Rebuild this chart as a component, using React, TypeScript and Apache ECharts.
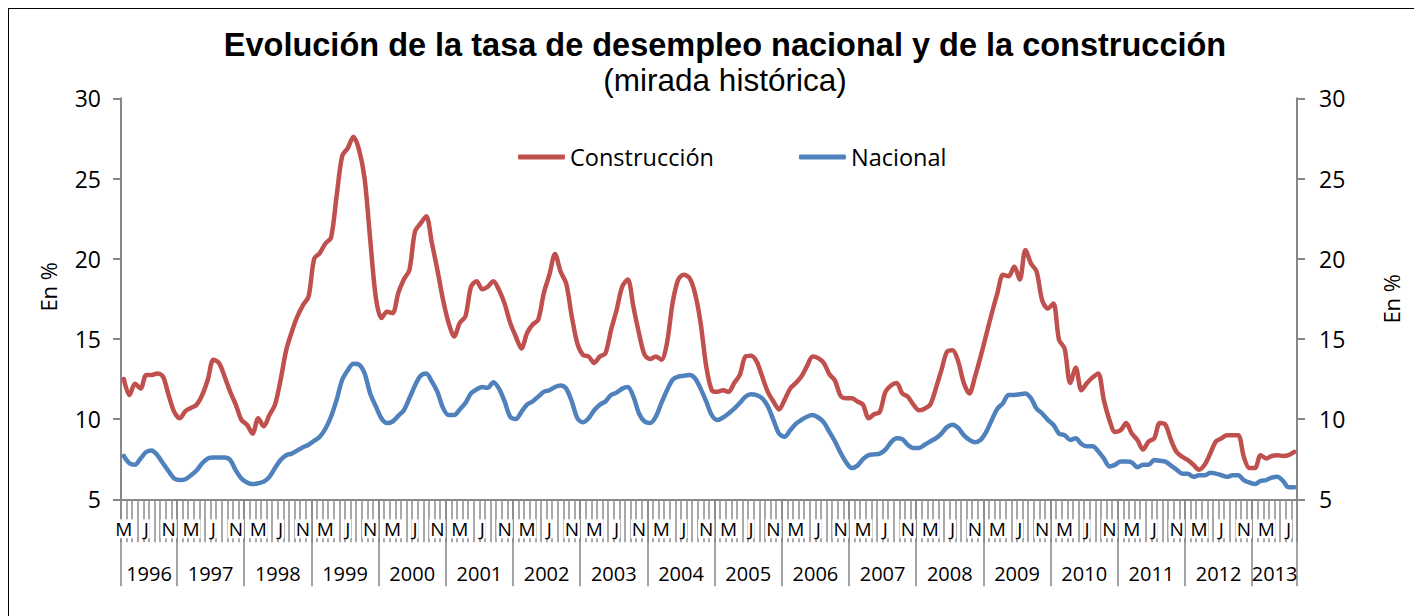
import React, { useEffect, useRef } from "react";
import * as echarts from "echarts";

// Spanish month initials (Enero ... Diciembre)
const monthInitials = ["E", "F", "M", "A", "M", "J", "J", "A", "S", "O", "N", "D"];
const firstYear = 1996;
const firstMonth = 2; // March 1996
const monthCount = 210; // March 1996 .. August 2013

// Tasa de desempleo, construcción (%)
const construccion = [
  12.5, 11.5, 12.2, 11.9, 12.75, 12.75, 12.85, 12.65, 11.5, 10.45,
  10.05, 10.5, 10.7, 10.9, 11.5, 12.45, 13.7, 13.5, 12.65, 11.7, 10.9, 9.95,
  9.65, 9.1, 10.05, 9.55, 10.25, 10.9, 12.45, 14.3, 15.45, 16.4, 17.1, 17.65,
  20.0, 20.35, 20.95, 21.3, 23.9, 26.4, 26.9, 27.6, 26.8, 25.0, 21.2, 17.6,
  16.3, 16.7, 16.6, 17.85, 18.7, 19.3, 21.7, 22.2, 22.65, 21.0, 19.3, 17.45,
  16.0, 15.15, 16.0, 16.4, 18.25, 18.6, 18.1, 18.25, 18.6, 18.05, 17.2, 16.0,
  15.15, 14.4, 15.35, 15.9, 16.2, 17.85, 19.0, 20.3, 19.2, 18.45, 16.4, 14.7,
  14.0, 13.9, 13.5, 13.9, 14.1, 15.55, 16.8, 18.25, 18.7, 17.0, 15.35, 14.0,
  13.75, 13.9, 13.7, 14.75, 17.25, 18.7, 19.0, 18.8, 17.85, 16.0, 13.3, 11.8,
  11.7, 11.8, 11.7, 12.25, 12.75, 13.9, 13.95, 13.6, 12.65, 11.7, 11.1, 10.6,
  11.2, 11.9, 12.25, 12.65, 13.3, 13.9, 13.8, 13.5, 12.8, 12.4, 11.45, 11.3,
  11.3, 11.1, 10.9, 10.05, 10.3, 10.45, 11.7, 12.1, 12.25, 11.6, 11.4, 10.9,
  10.55, 10.65, 10.9, 11.9, 13.05, 14.2, 14.3, 13.6, 12.25, 11.6, 12.65, 13.9,
  15.25, 16.6, 17.85, 19.0, 18.9, 19.5, 18.7, 20.55, 19.7, 19.2, 17.4, 16.9,
  17.2, 14.95, 14.4, 12.25, 13.2, 11.8, 12.25, 12.6, 12.85, 11.2, 9.95, 9.2,
  9.3, 9.75, 9.1, 8.7, 8.1, 8.6, 8.8, 9.75, 9.65, 8.7, 7.95, 7.65,
  7.45, 7.15, 6.85, 7.15, 7.85, 8.6, 8.8, 9.0, 9.0, 9.0, 7.65, 6.95,
  6.95, 7.75, 7.55, 7.7, 7.75, 7.7, 7.75, 7.95,
];

// Tasa de desempleo, nacional (%)
const nacional = [
  7.7, 7.25, 7.15, 7.55, 7.95, 8.05, 7.75, 7.25, 6.75, 6.3,
  6.2, 6.25, 6.5, 6.8, 7.25, 7.55, 7.6, 7.6, 7.6, 7.45, 6.8, 6.3,
  6.05, 5.95, 6.0, 6.1, 6.4, 6.95, 7.45, 7.75, 7.85, 8.05, 8.25, 8.4,
  8.65, 8.9, 9.4, 10.15, 11.2, 12.45, 13.05, 13.45, 13.4, 12.85, 11.6, 10.8,
  10.05, 9.75, 9.85, 10.2, 10.55, 11.3, 12.1, 12.7, 12.85, 12.35, 11.7, 10.7,
  10.25, 10.25, 10.6, 11.0, 11.6, 11.85, 12.0, 11.95, 12.3, 11.9, 11.1, 10.15,
  10.0, 10.45, 10.9, 11.1, 11.4, 11.7, 11.8, 12.0, 12.1, 11.9, 11.1, 10.05,
  9.8, 10.05, 10.55, 10.9, 11.1, 11.5, 11.65, 11.9, 12.0, 11.4, 10.35, 9.85,
  9.75, 10.15, 11.0, 11.8, 12.45, 12.65, 12.7, 12.75, 12.55, 11.9, 11.1, 10.25,
  9.95, 10.1, 10.35, 10.65, 11.0, 11.4, 11.55, 11.5, 11.3, 10.8, 9.95, 9.1,
  8.9, 9.3, 9.7, 9.95, 10.15, 10.25, 10.1, 9.8, 9.2, 8.6, 7.9, 7.3,
  6.95, 7.1, 7.5, 7.75, 7.8, 7.85, 8.1, 8.55, 8.8, 8.75, 8.4, 8.2,
  8.2, 8.4, 8.6, 8.8, 9.1, 9.5, 9.65, 9.45, 9.0, 8.7, 8.55, 8.7,
  9.2, 9.95, 10.65, 11.0, 11.5, 11.5, 11.55, 11.6, 11.3, 10.65, 10.35, 9.95,
  9.65, 9.1, 9.0, 8.7, 8.8, 8.45, 8.3, 8.3, 8.0, 7.55, 7.05, 7.15,
  7.35, 7.35, 7.3, 7.0, 7.15, 7.15, 7.45, 7.4, 7.35, 7.1, 6.85, 6.6,
  6.6, 6.4, 6.5, 6.5, 6.65, 6.6, 6.5, 6.4, 6.5, 6.5, 6.2, 6.05,
  5.95, 6.15, 6.2, 6.35, 6.4, 6.15, 5.75, 5.75,
];

const yTicks = { min: 5, max: 30, interval: 5 };

// category helpers (derived from the calendar)
const monthLabels: string[] = [];
const yearOf: number[] = [];
for (let i = 0; i < monthCount; i++) {
  const m = (firstMonth + i) % 12;
  monthLabels.push(monthInitials[m]);
  yearOf.push(firstYear + Math.floor((firstMonth + i) / 12));
}
const yearStarts = new Set<number>();
const yearLabels: string[] = new Array(monthCount).fill("");
{
  let a = 0;
  while (a < monthCount) {
    let b = a;
    while (b + 1 < monthCount && yearOf[b + 1] === yearOf[a]) b++;
    yearStarts.add(a);
    const len = b - a + 1;
    yearLabels[a + Math.floor((len - 1) / 2)] = String(yearOf[a]);
    a = b + 1;
  }
}

const FONT = "'Open Sans', 'Noto Sans', sans-serif";
const AXIS_GRAY = "#868686";
const RED = "#C0504D";
const BLUE = "#4F81BD";

export default function App() {
  const ref = useRef<HTMLDivElement>(null);
  useEffect(() => {
    document.documentElement.style.overflow = "hidden";
    document.body.style.overflow = "hidden";
    if (!ref.current) return;
    const chart = echarts.init(ref.current, undefined, { renderer: "svg" });
    const plotWidth = 1176;
    const band = plotWidth / monthCount;
    chart.setOption({
      animation: false,
      title: [
        {
          text: "Evolución de la tasa de desempleo nacional y de la construcción",
          left: 711,
          top: 14,
          textAlign: "center",
          textStyle: {
            fontFamily: "'Liberation Sans', Arial, sans-serif",
            fontWeight: "bold",
            fontSize: 32.5,
            color: "#000",
          },
        },
        {
          text: "(mirada histórica)",
          left: 711,
          top: 50,
          textAlign: "center",
          textStyle: {
            fontFamily: "'Liberation Sans', Arial, sans-serif",
            fontWeight: "normal",
            fontSize: 31.5,
            color: "#000",
          },
        },
      ],
      legend: {
        data: ["Construcción", "Nacional"],
        left: 504,
        top: 131,
        icon: "roundRect",
        itemWidth: 47,
        itemHeight: 5,
        itemGap: 85,
        textStyle: { fontFamily: FONT, fontSize: 23.5, color: "#000" },
      },
      grid: { left: 112, top: 89.3, width: plotWidth, height: 401, outerBoundsMode: "none" },
      xAxis: [
        {
          type: "category",
          position: "bottom",
          data: monthLabels,
          boundaryGap: true,
          axisLine: { onZero: false, lineStyle: { color: AXIS_GRAY, width: 2 } },
          axisTick: { show: true, interval: 0, length: 43, lineStyle: { color: "#8c8c8c", width: 1.5 } },
          axisLabel: {
            interval: 3,
            margin: 20,
            fontFamily: FONT,
            fontSize: 19,
            color: "#000",
            backgroundColor: "#fff",
            padding: [0, 1],
          },
          splitLine: { show: false },
        },
        {
          type: "category",
          position: "bottom",
          data: yearLabels,
          boundaryGap: true,
          axisLine: { show: false, onZero: false },
          axisTick: {
            show: true,
            interval: (idx: number) => yearStarts.has(idx),
            length: 87,
            lineStyle: { color: AXIS_GRAY, width: 1.5 },
          },
          axisLabel: {
            interval: 0,
            margin: 64,
            fontFamily: FONT,
            fontSize: 20,
            color: "#000",
            padding: [0, 0, 0, band],
          },
          splitLine: { show: false },
        },
      ],
      yAxis: [
        {
          type: "value",
          position: "left",
          ...yTicks,
          name: "En %",
          nameLocation: "middle",
          nameRotate: 90,
          nameGap: 62,
          nameTextStyle: { fontFamily: FONT, fontSize: 22, color: "#000", padding: [0, 0, 0, 24] },
          axisLine: { show: true, onZero: false, lineStyle: { color: AXIS_GRAY, width: 2 } },
          axisTick: { show: true, length: 8, lineStyle: { color: AXIS_GRAY, width: 2 } },
          axisLabel: { margin: 20, fontFamily: FONT, fontSize: 23, color: "#000" },
          splitLine: { show: false },
        },
        {
          type: "value",
          position: "right",
          ...yTicks,
          name: "En %",
          nameLocation: "middle",
          nameRotate: 90,
          nameGap: 83,
          nameTextStyle: { fontFamily: FONT, fontSize: 22, color: "#000" },
          axisLine: { show: true, onZero: false, lineStyle: { color: AXIS_GRAY, width: 2 } },
          axisTick: { show: true, length: 8, lineStyle: { color: AXIS_GRAY, width: 2 } },
          axisLabel: { margin: 22, fontFamily: FONT, fontSize: 23, color: "#000" },
          splitLine: { show: false },
        },
      ],
      series: [
        {
          name: "Construcción",
          type: "line",
          data: construccion,
          smooth: 0.3,
          showSymbol: false,
          symbol: "none",
          lineStyle: { color: RED, width: 4.5, cap: "round", join: "round" },
          itemStyle: { color: RED },
        },
        {
          name: "Nacional",
          type: "line",
          data: nacional,
          smooth: 0.3,
          showSymbol: false,
          symbol: "none",
          lineStyle: { color: BLUE, width: 4.5, cap: "round", join: "round" },
          itemStyle: { color: BLUE },
        },
      ],
    });
    return () => chart.dispose();
  }, []);
  return (
    <div
      style={{
        width: 1407,
        height: 640,
        border: "1px solid #000",
        boxSizing: "border-box",
        background: "#fff",
      }}
    >
      <div ref={ref} style={{ width: 1405, height: 638 }} />
    </div>
  );
}
